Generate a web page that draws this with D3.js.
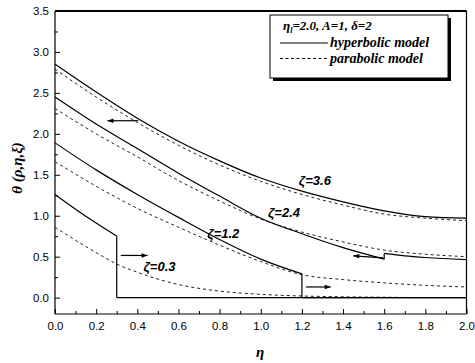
<!DOCTYPE html>
<html><head><meta charset="utf-8">
<script src="https://cdn.jsdelivr.net/npm/d3@7"></script>
<style>body{margin:0;background:#fff}svg{display:block}</style>
</head><body>
<svg id="c" width="475" height="363"></svg>
<script>
// ---- data ----
const etaGrid = [0, 0.2, 0.4, 0.6, 0.8, 1.0, 1.2, 1.4, 1.6, 1.8, 2.0];
// zeta = 3.6
const hyp36 = [2.85, 2.51, 2.19, 1.91, 1.67, 1.46, 1.30, 1.17, 1.06, 0.99, 0.97];
const par36 = [2.79, 2.45, 2.14, 1.86, 1.62, 1.42, 1.26, 1.13, 1.02, 0.97, 0.94];
// zeta = 2.4 (hyperbolic has a jump at eta = 1.6)
const hyp24Eta = [0, 0.2, 0.4, 0.6, 0.8, 1.0, 1.2, 1.4, 1.6, 1.6, 1.7, 1.8, 2.0];
const hyp24 = [2.45, 2.12, 1.82, 1.52, 1.24, 0.97, 0.78, 0.61, 0.47, 0.54, 0.51, 0.49, 0.465];
const par24 = [2.31, 2.00, 1.72, 1.43, 1.18, 0.96, 0.80, 0.68, 0.58, 0.53, 0.50];
// zeta = 1.2 (hyperbolic front at eta = 1.2)
const hyp12Eta = [0, 0.2, 0.4, 0.6, 0.8, 1.0, 1.2, 1.2, 2.0];
const hyp12 = [1.89, 1.56, 1.26, 0.98, 0.71, 0.47, 0.29, 0, 0];
const par12 = [1.66, 1.36, 1.09, 0.86, 0.64, 0.44, 0.28, 0.22, 0.18, 0.15, 0.13];
// zeta = 0.3 (hyperbolic front at eta = 0.3)
const hyp03Eta = [0, 0.1, 0.2, 0.3, 0.3, 2.0];
const hyp03 = [1.26, 1.08, 0.91, 0.75, 0, 0];
const par03Eta = [0, 0.1, 0.2, 0.3, 0.4, 0.6, 0.8, 1.0, 1.2, 1.4, 1.6, 1.8, 2.0];
const par03 = [0.86, 0.70, 0.55, 0.41, 0.31, 0.16, 0.08, 0.04, 0.02, 0.01, 0.005, 0, 0];

const yTicks = [0, 0.5, 1.0, 1.5, 2.0, 2.5, 3.0, 3.5];
const xTicks = [0, 0.2, 0.4, 0.6, 0.8, 1.0, 1.2, 1.4, 1.6, 1.8, 2.0];

const zetaLabels = [
  {text: "ζ=3.6", eta: 1.185, th: 1.38},
  {text: "ζ=2.4", eta: 1.035, th: 0.99},
  {text: "ζ=1.2", eta: 0.74, th: 0.73},
  {text: "ζ=0.3", eta: 0.43, th: 0.32}
];
// arrows: [etaFrom, thetaFrom, etaTo, thetaTo]
const arrows = [
  [0.405, 2.16, 0.255, 2.16],
  [1.595, 0.485, 1.45, 0.51],
  [0.32, 0.515, 0.45, 0.515],
  [1.22, 0.13, 1.34, 0.13]
];
const legendTitle = ["η", "l", "=2.0, A=1, δ=2"];
const legendItems = [{name: "hyperbolic model", dash: null}, {name: "parabolic model", dash: "3,2.5"}];

// ---- layout ----
const svg = d3.select("#c");
const L = 55, R = 466.5, T = 11, B = 314;
const x = d3.scaleLinear().domain([0, 2]).range([L, R]);
const y = d3.scaleLinear().domain([-0.2, 3.5]).range([B, T]);

// axes
const gx = svg.append("g").attr("transform", `translate(0,${B})`)
  .call(d3.axisBottom(x).tickValues(xTicks).tickSize(-5).tickPadding(8).tickFormat(d3.format(".1f")));
const gxm = svg.append("g").attr("transform", `translate(0,${B})`)
  .call(d3.axisBottom(x).tickValues(d3.range(0.1, 2, 0.2)).tickSize(-3).tickFormat(""));
const gy = svg.append("g").attr("transform", `translate(${L},0)`)
  .call(d3.axisLeft(y).tickValues(yTicks).tickSize(-5).tickPadding(6).tickFormat(d3.format(".1f")));
const gym = svg.append("g").attr("transform", `translate(${L},0)`)
  .call(d3.axisLeft(y).tickValues(d3.range(0.25, 3.5, 0.5)).tickSize(-3).tickFormat(""));
[gx, gxm, gy, gym].forEach(g => {
  g.select(".domain").remove();
  g.selectAll("text").attr("font-family", "Liberation Sans, Arial, sans-serif").attr("font-size", 11.5).attr("fill", "#000");
  g.selectAll("line").attr("stroke", "#000");
});

// frame
svg.append("line").attr("x1", L).attr("x2", L).attr("y1", T).attr("y2", B).attr("stroke", "#000").attr("stroke-width", 1.2);
svg.append("line").attr("x1", L).attr("x2", R).attr("y1", B).attr("y2", B).attr("stroke", "#000").attr("stroke-width", 1.2);
svg.append("line").attr("x1", R).attr("x2", R).attr("y1", T).attr("y2", B).attr("stroke", "#000").attr("stroke-width", 1.2);
svg.append("line").attr("x1", L).attr("x2", R).attr("y1", T).attr("y2", T).attr("stroke", "#000").attr("stroke-width", 2);

// curves
const lineGen = d3.line().x(d => x(d[0])).y(d => y(d[1])).curve(d3.curveMonotoneX);
function drawSeries(etas, vals, dash, color) {
  const pts = etas.map((e, i) => [e, vals[i]]);
  let seg = [pts[0]];
  const segs = [];
  for (let i = 1; i < pts.length; i++) {
    if (pts[i][0] === pts[i - 1][0]) {
      segs.push({pts: seg, type: "curve"});
      segs.push({pts: [pts[i - 1], pts[i]], type: "jump"});
      seg = [pts[i]];
    } else seg.push(pts[i]);
  }
  segs.push({pts: seg, type: "curve"});
  segs.forEach(s => {
    if (s.pts.length < 2) return;
    svg.append("path").attr("d", s.type === "jump" ? d3.line().x(d => x(d[0])).y(d => y(d[1]))(s.pts) : lineGen(s.pts))
      .attr("fill", "none").attr("stroke", color).attr("stroke-width", dash ? 1 : 1.2)
      .attr("stroke-dasharray", dash);
  });
}
const DASH = "3,3";
drawSeries(etaGrid, par36, DASH, "#222");
drawSeries(etaGrid, par24, DASH, "#222");
drawSeries(etaGrid, par12, DASH, "#222");
drawSeries(par03Eta, par03, DASH, "#222");
drawSeries(etaGrid, hyp36, null, "#000");
drawSeries(hyp24Eta, hyp24, null, "#000");
drawSeries(hyp12Eta, hyp12, null, "#000");
drawSeries(hyp03Eta, hyp03, null, "#000");

// arrows
arrows.forEach(a => {
  const x1 = x(a[0]), y1 = y(a[1]), x2 = x(a[2]), y2 = y(a[3]);
  svg.append("line").attr("x1", x1).attr("y1", y1).attr("x2", x2).attr("y2", y2).attr("stroke", "#000").attr("stroke-width", 1.2);
  const ang = Math.atan2(y2 - y1, x2 - x1), h = 6, w = 2.2;
  const p = [[x2, y2],
    [x2 - h * Math.cos(ang) + w * Math.sin(ang), y2 - h * Math.sin(ang) - w * Math.cos(ang)],
    [x2 - h * Math.cos(ang) - w * Math.sin(ang), y2 - h * Math.sin(ang) + w * Math.cos(ang)]];
  svg.append("path").attr("d", "M" + p.join("L") + "Z").attr("fill", "#000");
});

// zeta labels
zetaLabels.forEach(l => {
  svg.append("text").attr("x", x(l.eta)).attr("y", y(l.th)).text(l.text)
    .attr("font-family", "Liberation Sans, Arial, sans-serif").attr("font-size", 13)
    .attr("font-weight", "bold").attr("font-style", "italic").attr("fill", "#000");
});

// legend
const lx = 270, ly = 15, lw = 178, lh = 63;
svg.append("rect").attr("x", lx + 3).attr("y", ly + 3).attr("width", lw).attr("height", lh).attr("fill", "#000");
svg.append("rect").attr("x", lx).attr("y", ly).attr("width", lw).attr("height", lh).attr("fill", "#fff").attr("stroke", "#000").attr("stroke-width", 1);
const serif = "Liberation Serif, Times New Roman, serif";
const tt = svg.append("text").attr("x", lx + 13).attr("y", ly + 15)
  .attr("font-family", serif).attr("font-size", 13).attr("font-weight", "bold").attr("font-style", "italic");
tt.append("tspan").text(legendTitle[0]);
tt.append("tspan").text(legendTitle[1]).attr("font-size", 8).attr("dy", 3);
tt.append("tspan").text(legendTitle[2]).attr("dy", -3);
legendItems.forEach((it, i) => {
  const yy = ly + 28 + i * 15.5;
  svg.append("line").attr("x1", lx + 10).attr("x2", lx + 58).attr("y1", yy).attr("y2", yy)
    .attr("stroke", "#000").attr("stroke-width", 1).attr("stroke-dasharray", it.dash);
  svg.append("text").attr("x", lx + 60).attr("y", yy + 4).text(it.name)
    .attr("font-family", serif).attr("font-size", 14).attr("font-weight", "bold").attr("font-style", "italic");
});

// axis titles
svg.append("text").attr("x", 260).attr("y", 357).attr("text-anchor", "middle").text("η")
  .attr("font-family", serif).attr("font-size", 15).attr("font-weight", "bold").attr("font-style", "italic");
svg.append("text").attr("transform", "translate(22,168) rotate(-90)").attr("text-anchor", "middle").text("θ (ρ,η,ξ)")
  .attr("font-family", serif).attr("font-size", 15).attr("font-weight", "bold").attr("font-style", "italic");
</script>
</body></html>
